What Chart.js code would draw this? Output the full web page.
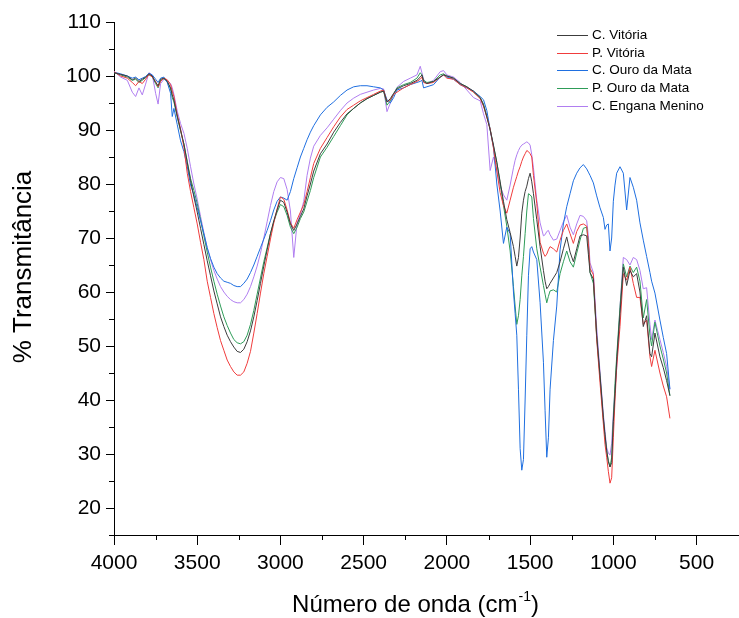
<!DOCTYPE html>
<html>
<head>
<meta charset="utf-8">
<script src="https://cdn.jsdelivr.net/npm/chart.js@4.4.1/dist/chart.umd.min.js"></script>
<style>
  html, body { margin: 0; padding: 0; background: #fff; }
  #wrap { width: 739px; height: 618px; position: relative; }
</style>
</head>
<body>
<div id="wrap"><canvas id="ftir"></canvas></div>
<script>
// numero de onda (cm-1), eixo invertido
const wavenumbers = [4000, 3960, 3920, 3890, 3870, 3850, 3830, 3810, 3790, 3770, 3750, 3735, 3720, 3700, 3680, 3660, 3650, 3640, 3620, 3600,
  3580, 3560, 3540, 3520, 3500, 3480, 3460, 3440, 3420, 3400, 3380, 3360, 3340, 3320, 3300, 3280, 3260, 3240, 3220, 3200,
  3180, 3160, 3140, 3120, 3100, 3080, 3060, 3040, 3020, 3000, 2980, 2960, 2940, 2920, 2900, 2880, 2860, 2840, 2820, 2800,
  2760, 2720, 2680, 2640, 2600, 2560, 2520, 2480, 2440, 2400, 2380, 2360, 2340, 2320, 2300, 2260, 2220, 2180, 2160, 2150,
  2140, 2120, 2080, 2040, 2020, 2000, 1960, 1920, 1880, 1840, 1800, 1780, 1760, 1740, 1720, 1700, 1680, 1660, 1640, 1620,
  1600, 1590, 1580, 1570, 1560, 1550, 1540, 1530, 1520, 1510, 1500, 1490, 1480, 1460, 1440, 1420, 1410, 1400, 1390, 1380,
  1360, 1340, 1320, 1300, 1280, 1260, 1240, 1220, 1200, 1180, 1160, 1150, 1140, 1120, 1100, 1080, 1060, 1050, 1040, 1030,
  1020, 1010, 1000, 990, 980, 960, 940, 920, 900, 880, 860, 840, 820, 800, 780, 770, 750, 720, 700, 680, 660];

const cVitoria = [100.6, 100.3, 100.0, 99.3, 99.6, 99.0, 99.4, 99.8, 100.4, 100.0, 98.8, 98.2, 99.4, 99.6, 99.0, 97.8, 96.5, 95.5, 92.6, 90.0,
  87.4, 84.0, 80.6, 77.6, 74.8, 71.8, 68.8, 65.8, 63.0, 60.2, 57.8, 55.4, 53.6, 52.0, 50.8, 49.8, 49.0, 48.8, 49.4, 50.8,
  52.8, 55.4, 58.4, 61.6, 64.8, 67.8, 70.8, 73.2, 75.2, 77.0, 76.6, 74.8, 72.6, 71.4, 72.6, 74.0, 75.4, 77.8, 80.0, 82.4,
  85.6, 87.4, 89.6, 91.4, 93.0, 94.0, 95.0, 95.8, 96.4, 97.0, 97.2, 95.2, 95.8, 96.8, 97.6, 98.2, 98.6, 99.2, 99.8, 100.2,
  99.0, 98.6, 99.0, 99.8, 100.2, 100.0, 99.6, 98.6, 98.0, 97.2, 96.0, 94.6, 92.4, 90.0, 87.2, 84.0, 80.4, 76.8, 73.4, 71.0,
  68.4, 66.6, 64.8, 66.4, 70.0, 74.6, 77.0, 78.6, 79.6, 81.0, 82.0, 80.4, 78.2, 73.4, 68.4, 64.0, 62.0, 60.6, 61.0, 61.6,
  62.6, 63.6, 65.6, 68.0, 70.2, 67.4, 65.6, 68.0, 70.4, 70.6, 70.4, 67.0, 63.6, 62.4, 52.0, 44.6, 36.8, 33.6, 30.6, 28.6,
  27.6, 28.4, 36.0, 41.2, 47.2, 56.0, 64.6, 61.2, 64.0, 62.8, 63.4, 60.0, 53.6, 55.6, 48.6, 48.0, 52.4, 48.0, 46.0, 43.6, 40.8];

const pVitoria = [100.8, 100.0, 99.6, 98.8, 98.2, 99.0, 98.6, 99.4, 100.3, 99.8, 99.0, 98.0, 99.0, 99.6, 99.3, 98.4, 97.2, 96.2, 92.8, 90.2,
  86.8, 82.0, 78.6, 75.6, 72.6, 69.2, 66.0, 62.0, 59.0, 56.0, 53.4, 51.0, 49.2, 47.4, 46.2, 45.2, 44.6, 44.6, 45.2, 46.8,
  49.0, 52.4, 56.0, 59.8, 63.4, 66.6, 69.8, 72.8, 75.4, 77.6, 77.2, 75.2, 72.8, 71.8, 73.4, 74.8, 76.2, 78.6, 81.2, 83.8,
  86.6, 88.6, 90.6, 92.4, 93.8, 94.6, 95.4, 96.0, 96.6, 97.2, 97.4, 95.2, 95.6, 96.6, 97.0, 97.8, 98.4, 99.0, 99.4, 99.8,
  98.8, 98.6, 98.8, 99.8, 100.2, 99.6, 99.4, 98.4, 97.8, 97.0, 95.8, 94.4, 92.4, 90.2, 86.6, 82.4, 78.4, 76.0, 74.6, 77.0,
  79.4, 80.4, 81.4, 82.4, 83.2, 84.2, 85.0, 85.6, 86.2, 86.0, 85.6, 85.0, 81.6, 76.4, 69.2, 67.2, 66.6, 67.0, 67.8, 68.4,
  68.0, 67.4, 69.6, 71.4, 72.6, 70.8, 69.0, 71.2, 72.4, 72.6, 72.2, 69.0, 64.4, 63.2, 51.2, 43.2, 35.6, 31.8, 29.4, 26.8,
  24.6, 25.6, 33.0, 40.0, 46.0, 53.6, 63.4, 62.2, 64.6, 61.6, 59.0, 59.0, 54.0, 54.8, 48.0, 46.2, 49.2, 45.0, 42.6, 40.6, 36.6];

const cOuroDaMata = [100.7, 100.4, 100.0, 99.6, 99.8, 99.3, 99.6, 99.9, 100.5, 100.2, 99.4, 98.8, 99.6, 99.8, 98.8, 96.8, 92.5, 94.0, 91.0, 88.0,
  86.0, 83.2, 79.8, 78.0, 75.6, 73.2, 70.8, 68.2, 66.2, 64.6, 63.4, 62.6, 62.0, 61.8, 61.6, 61.2, 61.0, 61.0, 61.6, 62.4,
  63.6, 65.0, 66.6, 68.2, 69.8, 71.4, 73.2, 75.2, 76.8, 77.6, 77.4, 77.0, 78.6, 81.0, 83.0, 85.0, 86.6, 88.2, 89.6, 90.8,
  92.8, 94.2, 95.2, 96.4, 97.4, 98.0, 98.2, 98.2, 98.0, 97.8, 97.4, 95.6, 95.0, 96.0, 97.4, 97.8, 98.4, 98.8, 99.0, 99.2,
  97.8, 98.0, 98.4, 99.8, 100.2, 99.8, 99.4, 98.4, 97.8, 97.2, 96.2, 95.6, 93.6, 90.0, 86.8, 80.0, 75.0, 69.0, 72.0, 70.8,
  60.0, 56.0, 52.0, 42.0, 31.0, 27.0, 29.0, 40.0, 52.0, 63.0, 68.0, 68.4, 67.4, 66.0, 58.0, 47.0, 38.0, 29.4, 33.0, 42.0,
  51.0, 57.4, 67.8, 72.6, 75.8, 78.2, 80.6, 82.0, 83.0, 83.6, 82.8, 82.2, 81.6, 80.2, 77.8, 75.6, 73.8, 71.6, 72.4, 72.6,
  67.6, 70.0, 76.8, 79.8, 82.0, 83.2, 82.0, 75.2, 81.2, 79.4, 77.0, 72.8, 69.6, 66.6, 63.6, 62.0, 59.8, 54.8, 51.6, 48.6, 42.0];

const pOuroDaMata = [100.6, 100.2, 99.8, 99.2, 99.4, 98.8, 99.2, 99.7, 100.2, 99.9, 98.6, 97.8, 99.2, 99.5, 99.0, 97.6, 96.0, 95.2, 92.4, 89.8,
  87.4, 84.2, 81.0, 78.8, 76.4, 73.4, 70.4, 67.4, 64.6, 62.0, 59.6, 57.4, 55.4, 53.8, 52.4, 51.2, 50.6, 50.4, 50.8, 52.0,
  54.0, 56.6, 59.6, 62.6, 65.6, 68.2, 70.8, 73.0, 74.8, 76.2, 75.8, 74.2, 72.0, 70.8, 72.0, 73.6, 74.8, 76.8, 78.8, 81.2,
  85.0, 86.8, 88.8, 90.8, 92.8, 94.0, 95.0, 95.8, 96.4, 97.0, 97.2, 94.6, 95.4, 96.6, 97.8, 98.4, 98.8, 99.6, 100.6, 100.2,
  99.2, 98.8, 99.0, 100.2, 100.4, 100.0, 99.6, 98.6, 98.0, 97.0, 96.0, 94.8, 92.6, 90.2, 87.0, 84.0, 80.2, 76.0, 72.2, 67.6,
  61.0, 57.4, 54.0, 55.6, 58.6, 63.0, 66.6, 70.8, 75.0, 78.2, 78.0, 77.6, 73.6, 68.0, 64.6, 61.2, 59.6, 58.0, 59.2, 60.2,
  60.4, 60.0, 63.4, 65.6, 67.6, 65.6, 64.6, 67.2, 69.6, 71.8, 72.0, 69.0, 63.6, 61.6, 51.6, 44.2, 36.4, 33.2, 30.6, 28.8,
  27.6, 29.4, 36.4, 43.0, 48.0, 57.2, 65.2, 62.8, 64.8, 63.6, 64.6, 62.0, 55.2, 58.6, 52.0, 50.0, 54.4, 50.0, 47.6, 45.0, 40.8];

const cEnganaMenino = [100.9, 99.8, 99.2, 97.0, 96.2, 97.8, 96.5, 98.5, 100.6, 100.2, 96.8, 94.8, 98.6, 99.4, 99.2, 98.6, 97.8, 96.6, 93.5, 91.2,
  89.4, 86.6, 83.2, 80.0, 77.2, 74.0, 71.0, 68.2, 66.0, 64.0, 62.4, 61.0, 60.0, 59.2, 58.6, 58.2, 58.0, 58.0, 58.6, 59.6,
  61.0, 62.8, 64.8, 67.2, 70.0, 73.0, 76.0, 78.6, 80.4, 81.2, 81.0, 79.0, 75.0, 66.4, 72.8, 74.4, 76.8, 81.6, 84.8, 87.0,
  89.0, 90.4, 92.0, 93.6, 95.0, 95.9, 96.6, 97.0, 97.4, 97.7, 97.6, 93.4, 95.0, 96.6, 97.9, 99.0, 99.6, 100.2, 101.8, 100.6,
  99.4, 98.6, 99.2, 100.8, 101.0, 100.2, 99.8, 98.8, 97.4, 96.0, 95.4, 93.0, 91.0, 82.5, 85.0, 82.6, 79.6, 78.0, 77.0, 79.8,
  83.0, 84.4, 85.4, 86.2, 86.8, 87.2, 87.4, 87.6, 87.8, 87.6, 87.2, 85.4, 83.0, 77.0, 72.8, 70.4, 70.6, 71.2, 71.4, 70.6,
  69.6, 69.8, 71.4, 73.0, 74.2, 72.0, 70.6, 72.6, 74.2, 74.0, 73.2, 70.4, 65.4, 63.6, 53.4, 45.2, 37.4, 34.2, 31.2, 30.2,
  29.8, 32.0, 37.6, 42.0, 45.8, 57.2, 66.4, 66.0, 65.0, 66.4, 66.0, 64.0, 60.6, 60.8, 54.0, 51.2, 54.8, 51.2, 48.8, 46.2, 42.0];

const seriesNames = ['C. Vitória', 'P. Vitória', 'C. Ouro da Mata', 'P. Ouro da Mata', 'C. Engana Menino'];
const seriesColors = ['#3c3c3c', '#f03c3c', '#1f6fe0', '#2e9c58', '#b07ef0'];
const xTicks = [4000, 3500, 3000, 2500, 2000, 1500, 1000, 500];
const xMinor = [3750, 3250, 2750, 2250, 1750, 1250, 750];
const yTicks = [20, 30, 40, 50, 60, 70, 80, 90, 100, 110];
const yMinor = [15, 25, 35, 45, 55, 65, 75, 85, 95, 105];

const fontFamily = "'Liberation Sans', Arial, sans-serif";
const allSeries = [cVitoria, pVitoria, cOuroDaMata, pOuroDaMata, cEnganaMenino];

const datasets = allSeries.map((vals, i) => ({
  label: seriesNames[i],
  data: wavenumbers.map((w, j) => ({ x: w, y: vals[j] })),
  borderColor: seriesColors[i],
  borderWidth: 1,
  pointRadius: 0,
  tension: 0,
  fill: false
}));

// pequenos ticks secundarios nos eixos
const minorTicks = {
  id: 'minorTicks',
  afterDraw(chart) {
    const { ctx, chartArea, scales } = chart;
    ctx.save();
    ctx.strokeStyle = '#000';
    ctx.lineWidth = 1;
    ctx.beginPath();
    xMinor.forEach(v => {
      const px = Math.round(scales.x.getPixelForValue(v)) + 0.5;
      ctx.moveTo(px, chartArea.bottom);
      ctx.lineTo(px, chartArea.bottom + 5);
    });
    yMinor.forEach(v => {
      const py = Math.round(scales.y.getPixelForValue(v)) + 0.5;
      ctx.moveTo(chartArea.left, py);
      ctx.lineTo(chartArea.left - 5, py);
    });
    ctx.stroke();
    ctx.restore();
  }
};

// titulos dos eixos (com sobrescrito no cm-1)
const axisTitles = {
  id: 'axisTitles',
  afterDraw(chart) {
    const { ctx, chartArea } = chart;
    ctx.save();
    ctx.fillStyle = '#000';
    ctx.textBaseline = 'middle';

    ctx.save();
    ctx.translate(24, chartArea.top + 245);
    ctx.rotate(-Math.PI / 2);
    ctx.textAlign = 'center';
    ctx.font = '26px ' + fontFamily;
    ctx.fillText('% Transmitância', 0, 0);
    ctx.restore();

    const main = 'Número de onda (cm', sup = '-1', tail = ')';
    ctx.font = '24px ' + fontFamily;
    const w1 = ctx.measureText(main).width;
    const w3 = ctx.measureText(tail).width;
    ctx.font = '14px ' + fontFamily;
    const w2 = ctx.measureText(sup).width;
    const yMid = chartArea.bottom + 70;
    let x = chartArea.left + 301 - (w1 + w2 + w3) / 2;
    ctx.textAlign = 'left';
    ctx.font = '24px ' + fontFamily;
    ctx.fillText(main, x, yMid);
    ctx.font = '14px ' + fontFamily;
    ctx.fillText(sup, x + w1 + 1, yMid - 8);
    ctx.font = '24px ' + fontFamily;
    ctx.fillText(tail, x + w1 + w2 + 1, yMid);
    ctx.restore();
  }
};

// legenda dentro da area do grafico
const innerLegend = {
  id: 'innerLegend',
  afterDraw(chart) {
    const ctx = chart.ctx;
    const x0 = chart.chartArea.right - 182;
    const y0 = chart.chartArea.top + 13;
    ctx.save();
    ctx.font = '13.5px ' + fontFamily;
    ctx.textBaseline = 'middle';
    chart.data.datasets.forEach((ds, i) => {
      const y = Math.round(y0 + i * 17.7) + 0.5;
      ctx.strokeStyle = ds.borderColor;
      ctx.lineWidth = 1;
      ctx.beginPath();
      ctx.moveTo(x0, y);
      ctx.lineTo(x0 + 31, y);
      ctx.stroke();
      ctx.fillStyle = '#000';
      ctx.fillText(ds.label, x0 + 35, y);
    });
    ctx.restore();
  }
};

const config = {
  type: 'line',
  data: { datasets: datasets },
  options: {
    responsive: true,
    maintainAspectRatio: false,
    animation: false,
    layout: { padding: { top: 22, right: 0, bottom: 0, left: 0 } },
    plugins: {
      legend: { display: false },
      tooltip: { enabled: false }
    },
    scales: {
      x: {
        type: 'linear',
        reverse: true,
        min: 245,
        max: 4000,
        afterBuildTicks: s => { s.ticks = xTicks.map(v => ({ value: v })); },
        afterFit: s => { s.height = 83; },
        grid: { drawOnChartArea: false, drawTicks: true, tickLength: 10, color: '#000' },
        border: { display: true, color: '#000', width: 1 },
        ticks: {
          color: '#000',
          font: { family: fontFamily, size: 21 },
          padding: 6,
          maxRotation: 0,
          autoSkip: false,
          callback: v => String(v)
        }
      },
      y: {
        min: 15,
        max: 110,
        afterBuildTicks: s => { s.ticks = yTicks.map(v => ({ value: v })); },
        afterFit: s => { s.width = 114; },
        grid: { drawOnChartArea: false, drawTicks: true, tickLength: 8, color: '#000' },
        border: { display: true, color: '#000', width: 1 },
        ticks: { color: '#000', font: { family: fontFamily, size: 21 }, padding: 5 }
      }
    }
  },
  plugins: [minorTicks, axisTitles, innerLegend]
};

const ftirChart = new Chart(document.getElementById('ftir'), config);
</script>
</body>
</html>
